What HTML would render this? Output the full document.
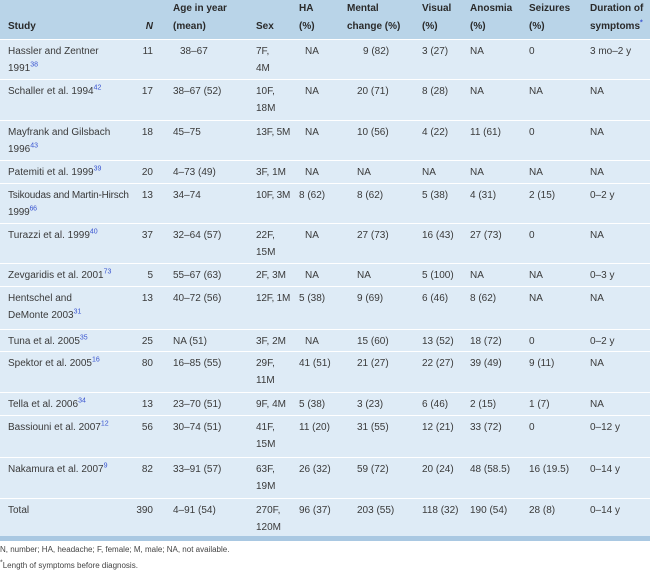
<!DOCTYPE html>
<html><head><meta charset="utf-8"><style>
body{margin:0;width:650px;height:573px;background:#fff;font-family:"Liberation Sans",sans-serif;color:#3a3a3a;font-size:10px;overflow:hidden}
table{border-collapse:collapse;table-layout:fixed;width:650px;position:absolute;left:0;top:0}
td,th{padding:0;vertical-align:top;line-height:17px;text-align:left;white-space:nowrap;overflow:visible}
th{background:#b9d4e8;font-weight:bold;color:#2a2a2a;vertical-align:bottom;padding-bottom:3px;height:35px;line-height:18px}
tbody td{background:#deebf6;border-top:1.5px solid #fff;padding-top:3px}
tbody tr:last-child td{border-bottom:5px solid #a9c8e2}
sup{color:#3a55d0;font-size:7px;line-height:0}
.c0{padding-left:8px}.c1{text-align:right;padding-right:12px}.c2{padding-left:8px}
.c3{padding-left:6px}.c4{padding-left:4px}.c5{padding-left:2px}.c6{padding-left:7px}.c7{padding-left:5px}.c8{padding-left:9px}.c9{padding-left:5px}
.fn{position:absolute;left:0;font-size:8px;color:#444}
.t{letter-spacing:-0.2px}
</style></head><body>
<table>
<colgroup><col style="width:130px"><col style="width:35px"><col style="width:85px"><col style="width:45px"><col style="width:50px"><col style="width:70px"><col style="width:50px"><col style="width:55px"><col style="width:65px"><col style="width:65px"></colgroup>
<thead><tr>
<th class="c0">Study</th><th class="c1"><i>N</i></th><th class="c2">Age in year<br>(mean)</th><th class="c3">Sex</th><th class="c4">HA<br>(%)</th><th class="c5">Mental<br>change (%)</th><th class="c6">Visual<br>(%)</th><th class="c7">Anosmia<br>(%)</th><th class="c8">Seizures<br>(%)</th><th class="c9">Duration of<br>symptoms<sup>*</sup></th>
</tr></thead>
<tbody>
<tr style="height:40px"><td class="c0">Hassler and Zentner<br>1991<sup>38</sup></td><td class="c1">11</td><td class="c2" style="padding-left:15px">38–67</td><td class="c3">7F,<br>4M</td><td class="c4" style="padding-left:10px">NA</td><td class="c5" style="padding-left:18px">9 (82)</td><td class="c6">3 (27)</td><td class="c7">NA</td><td class="c8">0</td><td class="c9">3 mo–2 y</td></tr>
<tr style="height:41px"><td class="c0">Schaller et al. 1994<sup>42</sup></td><td class="c1">17</td><td class="c2">38–67 (52)</td><td class="c3">10F,<br>18M</td><td class="c4" style="padding-left:10px">NA</td><td class="c5" style="padding-left:12px">20 (71)</td><td class="c6">8 (28)</td><td class="c7">NA</td><td class="c8">NA</td><td class="c9">NA</td></tr>
<tr style="height:40px"><td class="c0">Mayfrank and Gilsbach<br>1996<sup>43</sup></td><td class="c1">18</td><td class="c2">45–75</td><td class="c3 t">13F, 5M</td><td class="c4" style="padding-left:10px">NA</td><td class="c5" style="padding-left:12px">10 (56)</td><td class="c6">4 (22)</td><td class="c7">11 (61)</td><td class="c8">0</td><td class="c9">NA</td></tr>
<tr style="height:23px"><td class="c0">Patemiti et al. 1999<sup>39</sup></td><td class="c1">20</td><td class="c2">4–73 (49)</td><td class="c3">3F, 1M</td><td class="c4" style="padding-left:10px">NA</td><td class="c5" style="padding-left:12px">NA</td><td class="c6">NA</td><td class="c7">NA</td><td class="c8">NA</td><td class="c9">NA</td></tr>
<tr style="height:40px"><td class="c0 t">Tsikoudas and Martin-Hirsch<br>1999<sup>66</sup></td><td class="c1">13</td><td class="c2">34–74</td><td class="c3 t">10F, 3M</td><td class="c4">8 (62)</td><td class="c5" style="padding-left:12px">8 (62)</td><td class="c6">5 (38)</td><td class="c7">4 (31)</td><td class="c8">2 (15)</td><td class="c9">0–2 y</td></tr>
<tr style="height:40px"><td class="c0">Turazzi et al. 1999<sup>40</sup></td><td class="c1">37</td><td class="c2">32–64 (57)</td><td class="c3">22F,<br>15M</td><td class="c4" style="padding-left:10px">NA</td><td class="c5" style="padding-left:12px">27 (73)</td><td class="c6">16 (43)</td><td class="c7">27 (73)</td><td class="c8">0</td><td class="c9">NA</td></tr>
<tr style="height:23px"><td class="c0">Zevgaridis et al. 2001<sup>73</sup></td><td class="c1">5</td><td class="c2">55–67 (63)</td><td class="c3">2F, 3M</td><td class="c4" style="padding-left:10px">NA</td><td class="c5" style="padding-left:12px">NA</td><td class="c6">5 (100)</td><td class="c7">NA</td><td class="c8">NA</td><td class="c9">0–3 y</td></tr>
<tr style="height:43px"><td class="c0">Hentschel and<br>DeMonte 2003<sup>31</sup></td><td class="c1">13</td><td class="c2">40–72 (56)</td><td class="c3 t">12F, 1M</td><td class="c4">5 (38)</td><td class="c5" style="padding-left:12px">9 (69)</td><td class="c6">6 (46)</td><td class="c7">8 (62)</td><td class="c8">NA</td><td class="c9">NA</td></tr>
<tr style="height:22px"><td class="c0">Tuna et al. 2005<sup>35</sup></td><td class="c1">25</td><td class="c2">NA (51)</td><td class="c3">3F, 2M</td><td class="c4" style="padding-left:10px">NA</td><td class="c5" style="padding-left:12px">15 (60)</td><td class="c6">13 (52)</td><td class="c7">18 (72)</td><td class="c8">0</td><td class="c9">0–2 y</td></tr>
<tr style="height:41px"><td class="c0">Spektor et al. 2005<sup>16</sup></td><td class="c1">80</td><td class="c2">16–85 (55)</td><td class="c3">29F,<br>11M</td><td class="c4">41 (51)</td><td class="c5" style="padding-left:12px">21 (27)</td><td class="c6">22 (27)</td><td class="c7">39 (49)</td><td class="c8">9 (11)</td><td class="c9">NA</td></tr>
<tr style="height:23px"><td class="c0">Tella et al. 2006<sup>34</sup></td><td class="c1">13</td><td class="c2">23–70 (51)</td><td class="c3">9F, 4M</td><td class="c4">5 (38)</td><td class="c5" style="padding-left:12px">3 (23)</td><td class="c6">6 (46)</td><td class="c7">2 (15)</td><td class="c8">1 (7)</td><td class="c9">NA</td></tr>
<tr style="height:42px"><td class="c0">Bassiouni et al. 2007<sup>12</sup></td><td class="c1">56</td><td class="c2">30–74 (51)</td><td class="c3">41F,<br>15M</td><td class="c4">11 (20)</td><td class="c5" style="padding-left:12px">31 (55)</td><td class="c6">12 (21)</td><td class="c7">33 (72)</td><td class="c8">0</td><td class="c9">0–12 y</td></tr>
<tr style="height:41px"><td class="c0">Nakamura et al. 2007<sup>9</sup></td><td class="c1">82</td><td class="c2">33–91 (57)</td><td class="c3">63F,<br>19M</td><td class="c4">26 (32)</td><td class="c5" style="padding-left:12px">59 (72)</td><td class="c6">20 (24)</td><td class="c7">48 (58.5)</td><td class="c8">16 (19.5)</td><td class="c9">0–14 y</td></tr>
<tr style="height:30px"><td class="c0">Total</td><td class="c1">390</td><td class="c2">4–91 (54)</td><td class="c3">270F,<br>120M</td><td class="c4">96 (37)</td><td class="c5" style="padding-left:12px">203 (55)</td><td class="c6">118 (32)</td><td class="c7">190 (54)</td><td class="c8">28 (8)</td><td class="c9">0–14 y</td></tr>
</tbody></table>
<div class="fn" style="top:545px">N, number; HA, headache; F, female; M, male; NA, not available.</div>
<div class="fn" style="top:561px"><sup style="color:#444">*</sup>Length of symptoms before diagnosis.</div>
</body></html>
